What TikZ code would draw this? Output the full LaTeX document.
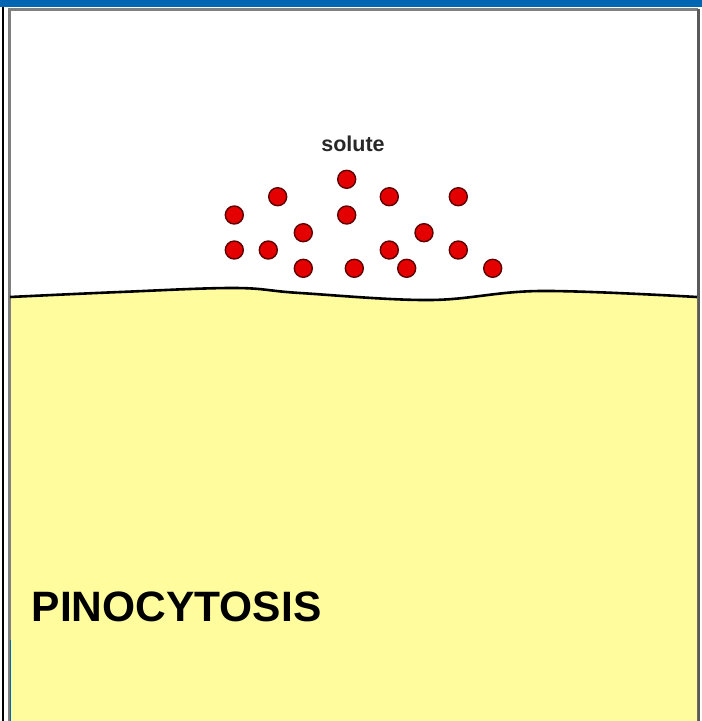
\documentclass[tikz,border=0pt]{standalone}
\usepackage{fontspec}
\setmainfont{Liberation Sans}
\begin{document}
\definecolor{barblue}{RGB}{0,102,179}
\definecolor{cyto}{RGB}{255,252,158}
\definecolor{framegray}{RGB}{128,128,128}
\definecolor{dotred}{RGB}{228,0,0}
\definecolor{dotrim}{RGB}{95,0,0}
\definecolor{labelgray}{RGB}{40,40,40}
\begin{tikzpicture}[x=1pt,y=-1pt,
  solute/.style={circle,fill=dotred,draw=dotrim,line width=1.4pt,minimum size=18pt,inner sep=0pt},
  membrane/.style={line width=2.6pt,black,line join=round}]
\useasboundingbox (0,0) rectangle (702,721);
\fill[white] (0,0) rectangle (702,721);
% window chrome
\fill[barblue] (0,0) rectangle (702,7);
\draw[black,line width=2.4pt] (3,7) -- (3,721);
\draw[framegray,line width=2.5pt] (9.5,721) -- (9.5,9.5) -- (698,9.5);
\draw[framegray!70!black,line width=3pt] (698.5,9) -- (698.5,721);
% cytoplasm below the membrane
\fill[cyto] (11,297) plot[smooth,tension=0.6] coordinates {(11,297) (120,292) (235,288) (300,293) (430,300) (540,291) (697,297)} -- (697,721) -- (11,721) -- cycle;
\draw[barblue,line width=1pt] (10.5,640) -- (10.5,721);
\draw[membrane] plot[smooth,tension=0.6] coordinates {(10,297) (120,292) (235,288) (300,293) (430,300) (540,291) (697,297)};
% solute particles
\foreach \n/\px/\py in {a/346.7/179.3, b/277.7/196.7, c/389.3/196.7, d/458.3/196.7,
  e/234.3/215, f/346.7/215, g/303.3/232.7, h/424/232.7,
  i/234.3/250, j/268.3/250, k/389.3/250, l/458.3/250,
  m/303.3/268.3, n/354.3/268.3, o/406.7/268.3, p/492.7/268.3}
  \node[solute] (s\n) at (\px,\py) {};
\node[font=\fontsize{21.5}{24}\bfseries\selectfont,text=labelgray,inner sep=0pt,anchor=base] (lbl) at (353,151.5) {solute};
\node[font=\fontsize{42.5}{48}\bfseries\selectfont,inner sep=0pt,anchor=base west] (title) at (31.5,621.5) {PINOCYTOSIS};
\end{tikzpicture}
\end{document}
